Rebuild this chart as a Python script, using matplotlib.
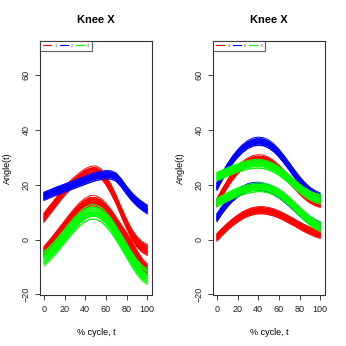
import numpy as np
import matplotlib
matplotlib.use("Agg")
import matplotlib.pyplot as plt

plt.rcParams['font.family'] = ['Liberation Sans', 'DejaVu Sans']

# % cycle grid (every 5 %)
t = np.arange(0, 101, 5)

# ---- left panel: groups 1, 2, 3 (band centre curves)
red_up_L = [8.0, 10.5, 12.8, 15.3, 17.6, 19.5, 21.2, 22.7, 24.0, 24.8, 25.0,
            24.0, 21.6, 18.3, 14.5, 10.0, 5.8, 2.0, -0.8, -2.7, -3.8]
red_lo_L = [-4.5, -2.2, 0.2, 2.6, 5.0, 7.4, 9.6, 11.6, 13.1, 14.0, 13.9,
            13.0, 11.3, 9.0, 6.3, 3.5, 0.7, -2.4, -5.8, -8.9, -11.0]
blue_L = [15.8, 16.6, 17.4, 18.1, 18.8, 19.5, 20.2, 20.9, 21.6, 22.3, 22.9,
          23.3, 23.6, 23.5, 22.7, 20.6, 18.0, 15.7, 13.8, 12.3, 11.0]
green_L = [-7.0, -5.3, -3.3, -1.1, 1.2, 3.5, 5.6, 7.5, 9.0, 9.8, 9.8,
           9.0, 7.3, 5.0, 2.2, -0.9, -4.0, -7.2, -10.0, -12.2, -13.5]

# ---- right panel: groups 4, 5, 6
red_up_R = [13.5, 17.0, 20.2, 23.0, 25.3, 27.0, 28.3, 29.1, 29.4, 29.2, 28.5,
            27.3, 25.7, 23.9, 22.0, 20.0, 18.0, 16.3, 14.9, 13.9, 13.3]
red_lo_R = [0.8, 2.8, 4.6, 6.2, 7.6, 8.8, 9.7, 10.3, 10.6, 10.6, 10.3,
            9.8, 9.1, 8.2, 7.2, 6.2, 5.1, 4.1, 3.2, 2.4, 1.8]
blue_up_R = [19.5, 23.0, 26.2, 29.0, 31.3, 33.2, 34.6, 35.5, 35.8, 35.6, 34.8,
             33.4, 31.5, 29.2, 26.7, 24.1, 21.6, 19.4, 17.6, 16.3, 15.4]
blue_lo_R = [8.0, 10.8, 13.2, 15.2, 16.8, 18.0, 18.9, 19.3, 19.4, 19.1, 18.5,
             17.6, 16.5, 15.1, 13.5, 11.8, 10.1, 8.5, 7.0, 5.8, 4.9]
green_up_R = [23.0, 23.8, 24.6, 25.4, 26.1, 26.7, 27.2, 27.5, 27.6, 27.4, 26.9,
              26.1, 25.0, 23.6, 22.0, 20.3, 18.7, 17.3, 16.1, 15.3, 14.8]
green_lo_R = [13.5, 14.5, 15.5, 16.4, 17.2, 17.9, 18.4, 18.8, 19.0, 18.9, 18.5,
              17.8, 16.8, 15.5, 13.9, 12.1, 10.3, 8.5, 6.9, 5.6, 4.6]

# per-curve shift (fraction of band half width) and amplitude scale
shift = [-1.0, -0.8, -0.65, -0.5, -0.4, -0.3, -0.2, -0.1, 0.0, 0.05,
         0.1, 0.2, 0.3, 0.4, 0.5, 0.6, 0.75, 0.9, 1.0, -0.55]
scale = [0.02, -0.03, 0.05, -0.01, 0.03, -0.05, 0.0, 0.04, -0.02, 0.06,
         -0.04, 0.01, -0.06, 0.02, 0.05, -0.02, 0.0, -0.03, 0.03, 0.04]

cols = {'red': '#FF0000', 'blue': '#0000FF', 'green': '#00FF00'}


def draw_band(ax, centre, hw, colour):
    c = np.array(centre)
    for s, a in zip(shift, scale):
        y = c + s * hw + a * (c - c.mean())
        ax.plot(t, y, color=colour, lw=0.7)


def style(ax, labels):
    ax.set_xlim(-3.5, 104.5)
    ax.set_ylim(-20.4, 72.7)
    ax.set_xticks([0, 20, 40, 60, 80, 100])
    ax.set_yticks([-20, 0, 20, 40, 60])
    ax.tick_params(labelsize=6.5, length=3.6, width=0.6, pad=3.5, colors='#222222')
    for lab in ax.get_yticklabels():
        lab.set_rotation(90)
        lab.set_va('center')
    for sp in ax.spines.values():
        sp.set_linewidth(0.8)
        sp.set_color('#333333')
    ax.set_title("Knee X", fontsize=8, fontweight='bold', pad=13)
    ax.set_xlabel("% cycle, t", fontsize=6.5, labelpad=10)
    ax.set_ylabel("Angle(t)", fontsize=6.5, labelpad=7)
    handles = [plt.Line2D([], [], color=cols[k], lw=0.8) for k in ['red', 'blue', 'green']]
    leg = ax.legend(handles, labels, loc='upper left', ncol=3, fontsize=3,
                    frameon=True, fancybox=False, borderaxespad=0,
                    handlelength=1.9, handletextpad=0.8, columnspacing=0.7,
                    borderpad=0.7)
    leg.get_frame().set_edgecolor('#333333')
    leg.get_frame().set_linewidth(0.8)
    for txt in leg.get_texts():
        txt.set_color('#555555')


fig = plt.figure(figsize=(3.46, 3.46), dpi=100)
axL = fig.add_axes([0.1165, 0.1465, 0.3225, 0.7359])
axR = fig.add_axes([0.6165, 0.1465, 0.3225, 0.7359])

draw_band(axL, red_up_L, 1.6, cols['red'])
draw_band(axL, red_lo_L, 1.8, cols['red'])
draw_band(axL, blue_L, 1.5, cols['blue'])
draw_band(axL, green_L, 2.6, cols['green'])
style(axL, ['1', '2', '3'])

draw_band(axR, red_up_R, 1.4, cols['red'])
draw_band(axR, red_lo_R, 1.3, cols['red'])
draw_band(axR, blue_up_R, 1.4, cols['blue'])
draw_band(axR, blue_lo_R, 1.4, cols['blue'])
draw_band(axR, green_up_R, 1.6, cols['green'])
draw_band(axR, green_lo_R, 1.6, cols['green'])
style(axR, ['4', '5', '6'])

fig.savefig("out.png", dpi=100)
